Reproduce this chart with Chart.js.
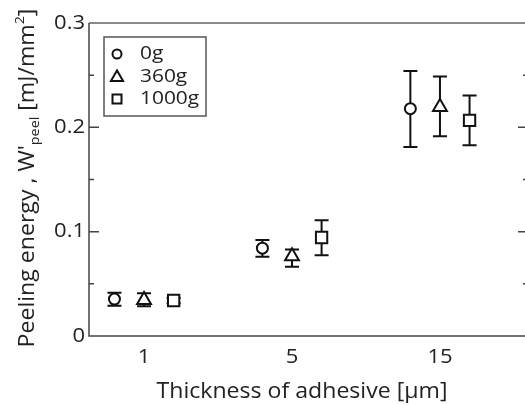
<!DOCTYPE html>
<html>
<head>
<meta charset="utf-8">
<script src="https://cdn.jsdelivr.net/npm/chart.js@4.4.1/dist/chart.umd.min.js"></script>
<style>
  html, body { margin: 0; padding: 0; background: #fff; }
  #clip { width: 525px; height: 405px; overflow: hidden; position: relative; }
  #box { width: 540px; height: 405px; position: absolute; left: 0; top: 0; }
</style>
</head>
<body>
<div id="clip"><div id="box"><canvas id="myChart"></canvas></div></div>
<script>
// thickness categories (x) and tick labels
const categories = ['1', '5', '15'];
const yTicks = [0, 0.1, 0.2, 0.3];
const yMinorTicks = [0.05, 0.15, 0.25];

// series: peeling energy per load
const seriesNames = ['0g', '360g', '1000g'];
const energy0g = [0.0354, 0.0842, 0.2179];
const energy360g = [0.0345, 0.0765, 0.2194];
const energy1000g = [0.0340, 0.0944, 0.2067];
// error bar ends
const low0g = [0.0290, 0.0759, 0.1812];
const high0g = [0.0414, 0.0919, 0.2539];
const low360g = [0.0285, 0.0663, 0.1914];
const high360g = [0.0410, 0.0830, 0.2488];
const low1000g = [0.0315, 0.0775, 0.1828];
const high1000g = [0.0365, 0.1110, 0.2306];

const FONT = '"Open Sans", "DejaVu Sans", sans-serif';
const STRETCH = 1.1; // reference lettering is a bit wider than Open Sans
const shift = [-0.2, 0, 0.2];
const styles = ['circle', 'triangle', 'rect'];
const radii = [5.5, 8, 8];

const values = [energy0g, energy360g, energy1000g];
const lows = [low0g, low360g, low1000g];
const highs = [high0g, high360g, high1000g];

const datasets = seriesNames.map((name, s) => ({
    label: name,
    data: values[s].map((v, i) => ({ x: i + shift[s], y: v, lo: lows[s][i], hi: highs[s][i] })),
    pointStyle: styles[s],
    pointRadius: radii[s],
    pointHoverRadius: radii[s],
    pointBackgroundColor: '#fff',
    pointBorderColor: '#111',
    pointBorderWidth: 2,
    showLine: false
}));

function marker(ctx, style, x, y, r) {
    ctx.beginPath();
    if (style == 'circle') {
        ctx.arc(x, y, r, 0, Math.PI * 2);
    } else if (style == 'triangle') {
        ctx.moveTo(x, y - r);
        ctx.lineTo(x + r * 0.866, y + r / 2);
        ctx.lineTo(x - r * 0.866, y + r / 2);
        ctx.closePath();
    } else {
        ctx.rect(x - r, y - r, 2 * r, 2 * r);
    }
    ctx.fill();
    ctx.stroke();
}

// text stretched along its own direction
function wideText(ctx, txt, x, y, align) {
    ctx.save();
    ctx.translate(x, y);
    ctx.scale(STRETCH, 1);
    ctx.textAlign = align;
    ctx.fillText(txt, 0, 0);
    ctx.restore();
}

const frame = {
    id: 'frame',
    beforeDatasetsDraw(chart) {
        const ctx = chart.ctx;
        const xs = chart.scales.x, ys = chart.scales.y;
        ctx.save();
        ctx.strokeStyle = '#111';
        ctx.lineWidth = 2;
        chart.data.datasets.forEach((ds) => {
            ds.data.forEach((p) => {
                const px = xs.getPixelForValue(p.x);
                const top = ys.getPixelForValue(p.hi);
                const bot = ys.getPixelForValue(p.lo);
                ctx.beginPath();
                ctx.moveTo(px, top); ctx.lineTo(px, bot);
                ctx.moveTo(px - 7, top); ctx.lineTo(px + 7, top);
                ctx.moveTo(px - 7, bot); ctx.lineTo(px + 7, bot);
                ctx.stroke();
            });
        });
        ctx.restore();
    },
    afterDraw(chart) {
        const ctx = chart.ctx;
        const a = chart.chartArea;
        const xs = chart.scales.x, ys = chart.scales.y;
        ctx.save();
        // frame
        ctx.strokeStyle = '#8a8a8a';
        ctx.lineWidth = 2;
        ctx.beginPath();
        ctx.moveTo(a.left, a.top); ctx.lineTo(a.right, a.top);
        ctx.stroke();
        ctx.strokeStyle = '#444';
        ctx.lineWidth = 1.5;
        ctx.beginPath();
        ctx.moveTo(a.left, a.top); ctx.lineTo(a.left, a.bottom); ctx.lineTo(a.right, a.bottom);
        ctx.lineTo(a.right, a.top);
        ctx.stroke();
        // y ticks, inward on both sides
        ctx.beginPath();
        yTicks.forEach((v) => {
            const y = ys.getPixelForValue(v);
            if (v == 0 || v == 0.3) return;
            ctx.moveTo(a.left, y); ctx.lineTo(a.left + 10, y);
            ctx.moveTo(a.right, y); ctx.lineTo(a.right - 10, y);
        });
        yMinorTicks.forEach((v) => {
            const y = ys.getPixelForValue(v);
            ctx.moveTo(a.left, y); ctx.lineTo(a.left + 5, y);
            ctx.moveTo(a.right, y); ctx.lineTo(a.right - 5, y);
        });
        ctx.stroke();

        // tick labels
        ctx.fillStyle = '#222';
        ctx.font = '20px ' + FONT;
        ctx.textBaseline = 'middle';
        ys.ticks.forEach((t) => {
            wideText(ctx, String(+t.value.toFixed(1)), a.left - 4, ys.getPixelForValue(t.value), 'right');
        });
        categories.forEach((c, i) => {
            wideText(ctx, c, xs.getPixelForValue(i), 357, 'center');
        });

        // legend
        ctx.strokeStyle = '#555';
        ctx.lineWidth = 1.5;
        ctx.strokeRect(104, 37, 102, 79);
        ctx.font = '19px ' + FONT;
        const legR = [4.5, 7, 4.5];
        chart.data.datasets.forEach((ds, i) => {
            const y = 54 + i * 22.5;
            ctx.fillStyle = '#fff';
            ctx.strokeStyle = '#111';
            ctx.lineWidth = 2;
            marker(ctx, styles[i], 117, y + (i == 1 ? 1 : 0), legR[i]);
            ctx.fillStyle = '#222';
            wideText(ctx, ds.label, 140, y, 'left');
        });

        // x title
        ctx.font = '21px ' + FONT;
        ctx.textBaseline = 'alphabetic';
        wideText(ctx, 'Thickness of adhesive [\u03bcm]', 302, 398, 'center');

        // y title with sub/superscript
        ctx.translate(34, 178);
        ctx.rotate(-Math.PI / 2);
        ctx.scale(STRETCH, 1);
        const big = '21px ' + FONT, small = '13px ' + FONT;
        const parts = [
            ['Peeling energy , W\'', big, 0],
            ['peel', small, 5],
            [' [mJ/mm', big, 0],
            ['2', small, -10],
            [']', big, 0]
        ];
        let total = 0;
        parts.forEach((p) => { ctx.font = p[1]; total += ctx.measureText(p[0]).width; });
        let x = -total / 2;
        ctx.textAlign = 'left';
        parts.forEach((p) => {
            ctx.font = p[1];
            ctx.fillText(p[0], x, p[2]);
            x += ctx.measureText(p[0]).width;
        });
        ctx.restore();
    }
};

const config = {
    type: 'scatter',
    data: { datasets: datasets },
    options: {
        responsive: true,
        maintainAspectRatio: false,
        animation: false,
        layout: { padding: { top: 23, right: 12, left: 0, bottom: 0 } },
        plugins: {
            legend: { display: false },
            tooltip: { enabled: false }
        },
        scales: {
            x: {
                type: 'linear',
                min: -0.372,
                max: 2.595,
                afterFit: (s) => { s.height = 69; },
                afterBuildTicks: (s) => { s.ticks = categories.map((c, i) => ({ value: i })); },
                grid: { display: false, drawTicks: false },
                border: { display: false },
                ticks: { display: false }
            },
            y: {
                min: 0,
                max: 0.3,
                afterFit: (s) => { s.width = 89; },
                afterBuildTicks: (s) => { s.ticks = yTicks.map((v) => ({ value: v })); },
                grid: { display: false, drawTicks: false },
                border: { display: false },
                ticks: { display: false }
            }
        }
    },
    plugins: [frame]
};

const myChart = new Chart(document.getElementById('myChart'), config);
</script>
</body>
</html>
